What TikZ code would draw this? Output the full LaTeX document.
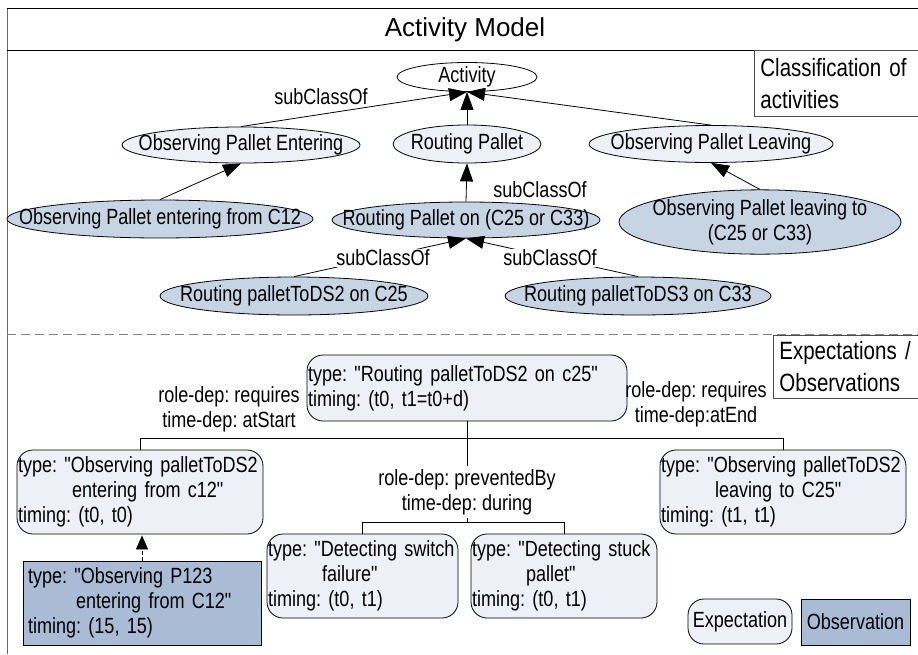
\documentclass[tikz,border=0pt]{standalone}
\usepackage{fontspec}
\setmainfont{Liberation Sans}[FakeStretch=0.82, Ligatures=TeXOff]
\newfontfamily\titlefont{Liberation Sans}[Ligatures=TeXOff]
\usetikzlibrary{arrows.meta, shapes.geometric}
\definecolor{clslight}{HTML}{EDF0F6}
\definecolor{clsdark}{HTML}{C7D4E4}
\definecolor{obsfill}{HTML}{AABCD5}
\newcommand{\zw}[1]{\makebox[0pt]{#1}}
\begin{document}
\frenchspacing
\begin{tikzpicture}[x=1pt, y=-1pt, line width=0.8pt,
    every node/.style={font=\fontsize{22}{25}\selectfont},
    cls/.style={ellipse, draw, fill=clslight, inner sep=0pt},
    sub/.style={ellipse, draw, fill=clsdark, inner sep=0pt},
    ebox/.style={draw, fill=clslight, rounded corners=16pt, inner xsep=1pt, inner ysep=0pt, minimum height=84pt, align=left},
    obox/.style={draw, fill=obsfill, inner xsep=5pt, inner ysep=0pt, minimum height=84pt, align=left},
    lbl/.style={fill=white, inner sep=1pt},
    hdr/.style={draw=black!70, anchor=north west, inner xsep=6pt, align=left, font=\fontsize{25}{32}\selectfont},
    isa/.style={-{Triangle[length=18pt, width=13pt]}}]
  \useasboundingbox (0,0) rectangle (918,654);
  \fill[white] (0,0) rectangle (918,654);

  \draw[black!60] (7,654) -- (7,8);
  \draw (7,8) -- (918,8);
  \draw (7,50) -- (918,50);
  \node[font=\titlefont\fontsize{26}{30}\selectfont] (title) at (465,30) {Activity Model};
  \node[hdr, text width=164pt, minimum height=66pt] (clshdr) at (754,50) {Classification of\\activities};

  \node[cls, fill=white, minimum width=140pt, minimum height=29pt] (act) at (467,77) {\zw{Activity}};
  \node[cls, minimum width=238pt, minimum height=36pt] (ope) at (241,145) {\zw{Observing Pallet Entering}};
  \node[cls, minimum width=148pt, minimum height=38pt] (rp) at (467,144) {\zw{Routing Pallet}};
  \node[cls, minimum width=244pt, minimum height=37pt] (opl) at (711,144) {\zw{Observing Pallet Leaving}};
  \node[sub, minimum width=306pt, minimum height=38pt] (opc) at (160,219) {\zw{Observing Pallet entering from C12}};
  \node[sub, minimum width=268pt, minimum height=36pt] (rpon) at (466,220) {\zw{Routing Pallet on (C25 or C33)}};
  \node[sub, minimum width=282pt, minimum height=64pt, align=center] (opl2) at (760,222) {\zw{Observing Pallet leaving to}\\\zw{(C25 or C33)}};
  \node[sub, minimum width=268pt, minimum height=38pt] (rd2) at (294,296) {\zw{Routing palletToDS2 on C25}};
  \node[sub, minimum width=266pt, minimum height=38pt] (rd3) at (638,296) {\zw{Routing palletToDS3 on C33}};

  \draw[isa] (ope.north) -- (act.south);
  \draw[isa] (rp.north) -- (act.south);
  \draw[isa] (opl.north) -- (act.south);
  \draw[isa] (opc.north) -- (ope.south);
  \draw[isa] (rpon.north) -- (rp.south);
  \draw[isa] (opl2.north) -- (opl.south);
  \draw[isa] (rd2.north) -- (rpon.south);
  \draw[isa] (rd3.north) -- (rpon.south);
  \node[lbl] (sc1) at (321,97) {subClassOf};
  \node[lbl] (sc2) at (540,190) {subClassOf};
  \node[lbl] (sc3) at (383,258) {subClassOf};
  \node[lbl] (sc4) at (550,258) {subClassOf};

  \draw[gray, dash pattern=on 9pt off 5pt] (7,334) -- (918,334);
  \node[hdr, text width=150pt, minimum height=63pt] (eohdr) at (773,335) {Expectations /\\Observations};

  \node[ebox, text width=318pt, minimum height=66pt] (rt) at (467,388) {type: "Routing palletToDS2 on c25"\\timing: (t0, t1=t0+d)};
  \node[ebox, text width=244pt] (lft) at (140,492) {type: "Observing palletToDS2\\\hspace*{54pt}entering from c12"\\timing: (t0, t0)};
  \node[ebox, text width=244pt] (rgt) at (783,492) {type: "Observing palletToDS2\\\hspace*{54pt}leaving to C25"\\timing: (t1, t1)};
  \node[ebox, text width=189pt] (sw) at (362.5,576) {type: "Detecting switch\\\hspace*{54pt}failure"\\timing: (t0, t1)};
  \node[ebox, text width=184pt] (st) at (564,576) {type: "Detecting stuck\\\hspace*{54pt}pallet"\\timing: (t0, t1)};
  \node[obox, text width=228pt] (obs) at (142,603) {type: "Observing P123\\\hspace*{48pt}entering from C12"\\timing: (15, 15)};
  \node[ebox, minimum height=45pt, minimum width=104pt, align=center, inner xsep=4pt] (lege) at (740,621.5) {Expectation};
  \node[obox, minimum height=46pt, minimum width=109pt, align=center] (lego) at (855.5,622) {Observation};

  \node[align=center] (rq1) at (229,409) {role-dep: requires\\time-dep: atStart};
  \node[align=center] (rq2) at (696,404) {role-dep: requires\\time-dep:atEnd};
  \node[align=center, inner ysep=3pt] (pd) at (467,492) {role-dep: preventedBy\\time-dep: during};

  \draw (rt.south) -- (pd.north);
  \draw (lft.north) -- ++(0,-11) -| (rgt.north);
  \draw (sw.north) -- ++(0,-11) coordinate (pbus) -| (st.north);
  \draw (pd.south) -- (pd.south |- pbus);
  \draw[-{Triangle[length=14pt, width=12pt]}, dash pattern=on 4pt off 2pt, shorten >=1pt] (obs.north) -- (obs.north |- lft.south);
\end{tikzpicture}
\end{document}
